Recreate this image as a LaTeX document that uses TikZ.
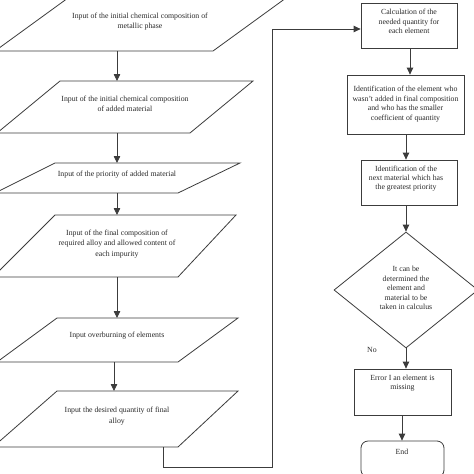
\documentclass[tikz,border=0pt]{standalone}
\usepackage{fontspec}
\setmainfont{Liberation Serif}
\usetikzlibrary{arrows.meta,shapes.geometric}
\definecolor{lc}{HTML}{3C3C3C}
\definecolor{tc}{HTML}{2A2A2A}
\begin{document}
\begin{tikzpicture}[x=1pt,y=-1pt,
  shp/.style={draw=lc, line width=0.8pt},
  box/.style={shp, rectangle, inner sep=0pt},
  lbl/.style={font=\fontsize{7.8}{10.5}\selectfont, align=center, text=tc, inner sep=0pt},
  slbl/.style={font=\fontsize{7.8}{9.4}\selectfont, align=center, text=tc, inner sep=0pt},
  arr/.style={draw=lc, line width=0.8pt, -{Triangle[length=7pt,width=6.5pt]}}]
\useasboundingbox (0,0) rectangle (474,474);
\clip (0,0) rectangle (474,474);
\fill[white] (0,0) rectangle (474,474);

% ---- left column: input parallelograms
\draw[shp] (-5,51) -- (213,51) -- (297,-10) -- (79,-10) -- cycle;
\node[lbl] (t1) at (140,21.5) {Input of the initial chemical composition of\\metallic phase};
\coordinate (p1o) at (117,51);

\draw[shp] (-3,133) -- (190,133) -- (253,81) -- (60,81) -- cycle;
\node[lbl] (t2) at (125,104) {Input of the initial chemical composition\\of added material};
\coordinate (p2i) at (117,81);
\coordinate (p2o) at (117,133);

\draw[shp] (-5,193) -- (178,193) -- (240,163) -- (55,163) -- cycle;
\node[lbl] (t3) at (117,175) {Input of the priority of added material};
\coordinate (p3i) at (117,163);
\coordinate (p3o) at (117,193);

\draw[shp] (-7,277) -- (178,277) -- (236,215) -- (55,215) -- cycle;
\node[lbl] (t4) at (117,244) {Input of the final composition of\\required alloy and allowed content of\\each impurity};
\coordinate (p4i) at (117,215);
\coordinate (p4o) at (117,277);

\draw[shp] (-3,362) -- (178,362) -- (238,318) -- (57,318) -- cycle;
\node[lbl] (t5) at (117,336) {Input overburning of elements};
\coordinate (p5i) at (117,318);
\coordinate (p5o) at (114,362);

\draw[shp] (-7,447) -- (178,447) -- (238,391) -- (57,391) -- cycle;
\node[lbl] (t6) at (117,416) {Input the desired quantity of final\\alloy};
\coordinate (p6i) at (114,391);
\coordinate (p6o) at (163,447);

\draw[arr] (p1o) -- (p2i);
\draw[arr] (p2o) -- (p3i);
\draw[arr] (p3o) -- (p4i);
\draw[arr] (p4o) -- (p5i);
\draw[arr] (p5o) -- (p6i);

% ---- right column
\node[box, minimum width=96pt, minimum height=45pt] (r1) at (409,25.5) {};
\node[slbl] (tr1) at (409,21.5) {Calculation of the\\needed quantity for\\each element};

\node[box, minimum width=117pt, minimum height=59pt] (r2) at (405.5,104.5) {};
\node[slbl] (tr2) at (405.5,104) {Identification of the element who\\wasn't added in final composition\\and who has the smaller\\coefficient of quantity};

\node[box, minimum width=96pt, minimum height=45pt] (r3) at (409,182.5) {};
\node[slbl] (tr3) at (406,178.5) {Identification of the\\next material which has\\the greatest priority};

\node[shp, diamond, minimum width=144pt, minimum height=116pt, inner sep=0pt] (d1) at (406,290) {};
\node[slbl] (td1) at (406,288) {It can be\\determined the\\element and\\material to be\\taken in calculus};

\node[box, minimum width=97pt, minimum height=46pt] (r4) at (402.5,392) {};
\node[slbl] (tr4) at (402.5,383) {Error I an element is\\missing};

\node[shp, rectangle, rounded corners=7pt, minimum width=83pt, minimum height=36pt, inner sep=0pt] (e1) at (402.5,459) {};
\node[slbl] (te1) at (402,452) {End};

\node[slbl] (no) at (372,350) {No};

\draw[arr] (r1.south -| 410,0) -- (r2.north -| 410,0);
\draw[arr] (r2.south -| 406,0) -- (r3.north -| 406,0);
\draw[arr] (r3.south -| 406,0) -- (d1.north);
\draw[arr] (d1.south) -- (r4.north -| 406,0);
\draw[arr] (r4.south -| 402,0) -- (e1.north -| 402,0);

% ---- feedback connector
\coordinate (f1) at (163,467);
\coordinate (f2) at (272,467);
\coordinate (f3) at (272,29);
\coordinate (r1in) at (r1.west |- f3);
\draw[arr] (p6o) -- (f1) -- (f2) -- (f3) -- (r1in);
\end{tikzpicture}
\end{document}
